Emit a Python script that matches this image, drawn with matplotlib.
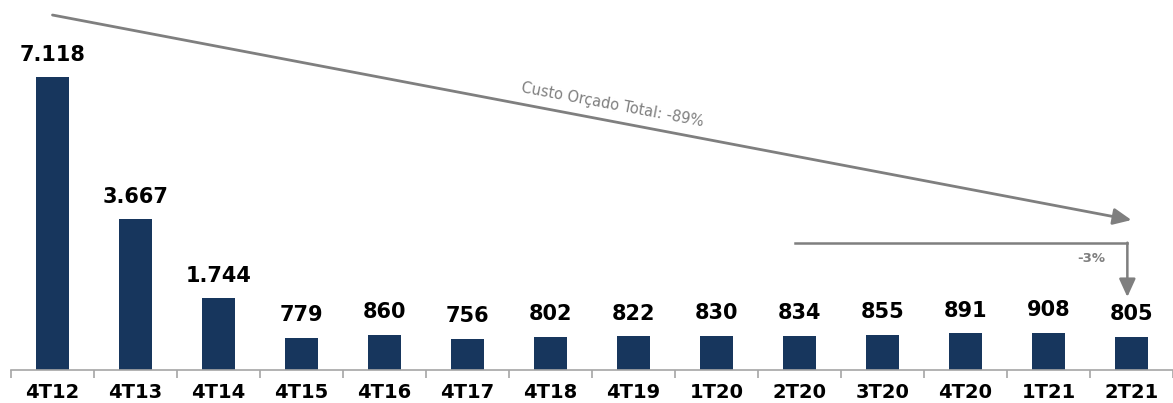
import matplotlib
matplotlib.use("Agg")
from matplotlib import pyplot as plt
import numpy as np

# dados
periodos = ['4T12', '4T13', '4T14', '4T15', '4T16', '4T17', '4T18', '4T19',
            '1T20', '2T20', '3T20', '4T20', '1T21', '2T21']
valores = [7118, 3667, 1744, 779, 860, 756, 802, 822, 830, 834, 855, 891, 908, 805]
rotulos = ['7.118', '3.667', '1.744', '779', '860', '756', '802', '822',
           '830', '834', '855', '891', '908', '805']
texto_total = 'Custo Orçado Total: -89%'
texto_var = '-3%'

azul = '#17365d'
cinza = '#7f7f7f'

fig = plt.figure(figsize=(11.73, 4.03), dpi=100)
ax = fig.add_axes([11/1173, 33/403, 1 - 11/1173, 370/403])

x = np.arange(len(periodos))
ax.bar(x, valores, width=0.39, color=azul, zorder=2)

for xi, v, r in zip(x, valores, rotulos):
    ax.annotate(r, (xi, v), xytext=(0, 9), textcoords='offset points',
                ha='center', va='bottom', fontsize=15, fontweight='bold', color='black')

ax.set_xlim(-0.5, 13.38)
ax.set_ylim(0, 8990)

ax.set_xticks(x)
ax.set_xticklabels(periodos, fontsize=14, fontweight='bold')
ax.tick_params(axis='x', which='major', length=0, pad=9)
ax.set_xticks(np.arange(-0.5, 14, 1), minor=True)
ax.tick_params(axis='x', which='minor', length=6, color='#a6a6a6', width=1.2)
ax.set_yticks([])
for s in ['top', 'right', 'left']:
    ax.spines[s].set_visible(False)
ax.spines['bottom'].set_color('#a6a6a6')
ax.spines['bottom'].set_linewidth(1.2)

# seta de tendencia total
ax.annotate('', xy=(13.0, 3644), xytext=(0.0, 8625),
            arrowprops=dict(arrowstyle='-|>,head_length=1.1,head_width=0.5',
                            color=cinza, lw=2, shrinkA=0, shrinkB=0))
ax.text(6.75, 6438, texto_total, rotation=-10.7, rotation_mode='anchor',
        ha='center', va='center', fontsize=10.5, color=cinza)

# seta -3%
ax.plot([8.94, 12.95], [3093, 3093], color=cinza, lw=1.8)
ax.annotate('', xy=(12.95, 1774), xytext=(12.95, 3093),
            arrowprops=dict(arrowstyle='-|>,head_length=1.1,head_width=0.5',
                            color=cinza, lw=1.8, shrinkA=0, shrinkB=0))
ax.text(12.51, 2721, texto_var, ha='center', va='center', fontsize=9.5,
        fontweight='bold', color=cinza)

fig.savefig('out.png', dpi=100)
